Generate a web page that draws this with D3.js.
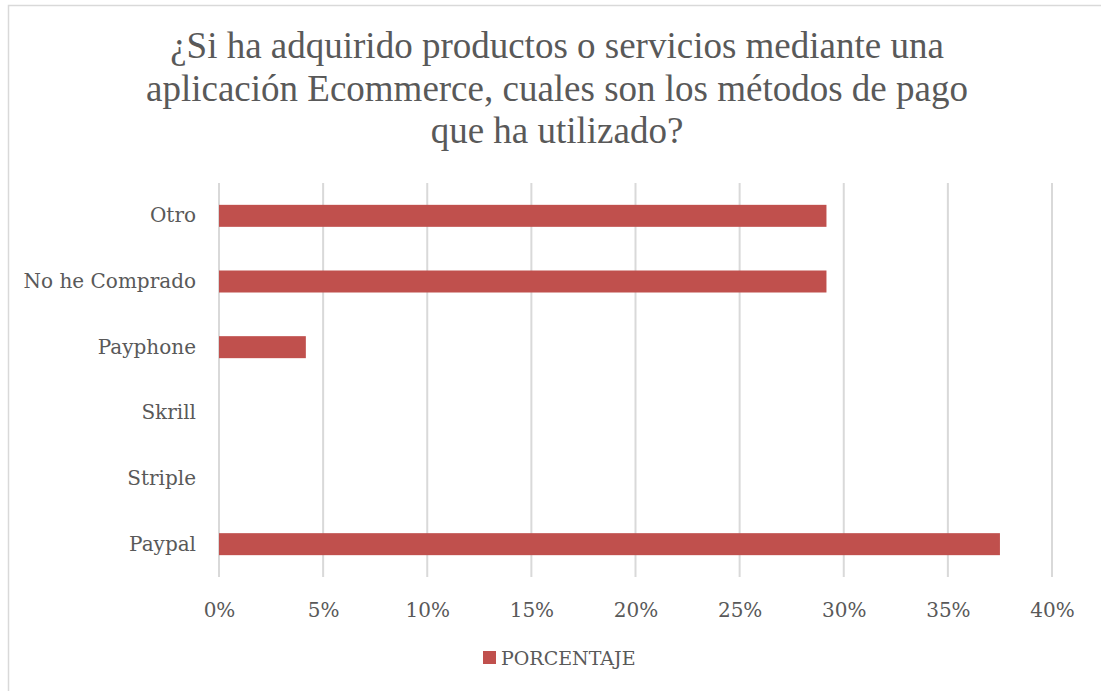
<!DOCTYPE html>
<html>
<head>
<meta charset="utf-8">
<script src="https://cdn.jsdelivr.net/npm/d3@7"></script>
<style>
  body { margin: 0; background: #fff; }
  svg text { fill: #595959; }
</style>
</head>
<body>
<svg id="chart" width="1101" height="691"></svg>
<script>
// chart values
const categories = ['Otro', 'No he Comprado', 'Payphone', 'Skrill', 'Striple', 'Paypal']
const porcentaje = [0.2917, 0.2917, 0.0417, 0, 0, 0.375]
const xTicks = [0, 0.05, 0.10, 0.15, 0.20, 0.25, 0.30, 0.35, 0.40]
const titleLines = [
  '¿Si ha adquirido productos o servicios mediante una',
  'aplicación Ecommerce, cuales son los métodos de pago',
  'que ha utilizado?'
]
const seriesName = 'PORCENTAJE'

const svg = d3.select('#chart')
const margin = { top: 183, right: 49, bottom: 114, left: 219 }
const width = 1101 - margin.left - margin.right
const height = 691 - margin.top - margin.bottom
const barColor = '#c0504d'
const labelFont = '"DejaVu Serif", serif'

// outer frame
svg.append('rect')
  .attr('x', 8.5).attr('y', 5.5)
  .attr('width', 1100).attr('height', 700)
  .attr('fill', 'none')
  .attr('stroke', '#d9d9d9')
  .attr('stroke-width', 1.5)

// title
svg.append('g')
  .selectAll('text')
  .data(titleLines)
  .join('text')
  .attr('x', 557)
  .attr('y', (d, i) => 58 + i * 42.5)
  .attr('text-anchor', 'middle')
  .style('font-family', '"Liberation Serif", "Times New Roman", Times, serif')
  .style('font-size', '37px')
  .text(d => d)

const g = svg.append('g').attr('transform', `translate(${margin.left},${margin.top})`)

const x = d3.scaleLinear().domain([0, 0.4]).range([0, width])
const y = d3.scaleBand().domain(categories).range([0, height]).paddingInner(0.665).paddingOuter(0.3325)

// vertical gridlines
g.append('g')
  .selectAll('line')
  .data(xTicks)
  .join('line')
  .attr('x1', d => x(d)).attr('x2', d => x(d))
  .attr('y1', 0).attr('y2', height)
  .attr('stroke', '#d9d9d9')
  .attr('stroke-width', 2)

// x axis labels
const xAxis = g.append('g')
  .attr('transform', `translate(0,${height})`)
  .call(d3.axisBottom(x).tickValues(xTicks).tickFormat(d3.format('.0%')).tickSize(0).tickPadding(26))
xAxis.select('.domain').remove()
xAxis.selectAll('text')
  .style('font-family', labelFont)
  .style('font-size', '20px')
  .attr('fill', '#595959')

// y axis labels
const yAxis = g.append('g')
  .call(d3.axisLeft(y).tickSize(0).tickPadding(23))
yAxis.select('.domain').remove()
yAxis.selectAll('text')
  .style('font-family', labelFont)
  .style('font-size', '20px')
  .attr('fill', '#595959')

// bars
g.append('g')
  .selectAll('rect')
  .data(categories)
  .join('rect')
  .attr('x', x(0))
  .attr('y', d => y(d))
  .attr('width', (d, i) => x(porcentaje[i]) - x(0))
  .attr('height', y.bandwidth())
  .attr('fill', barColor)

// legend
const legend = svg.append('g').attr('transform', 'translate(483,658)')
legend.append('rect')
  .attr('x', 0).attr('y', -7)
  .attr('width', 13).attr('height', 13)
  .attr('fill', barColor)
legend.append('text')
  .attr('x', 18).attr('y', 7)
  .style('font-family', labelFont)
  .style('font-size', '19px')
  .text(seriesName)
</script>
</body>
</html>
